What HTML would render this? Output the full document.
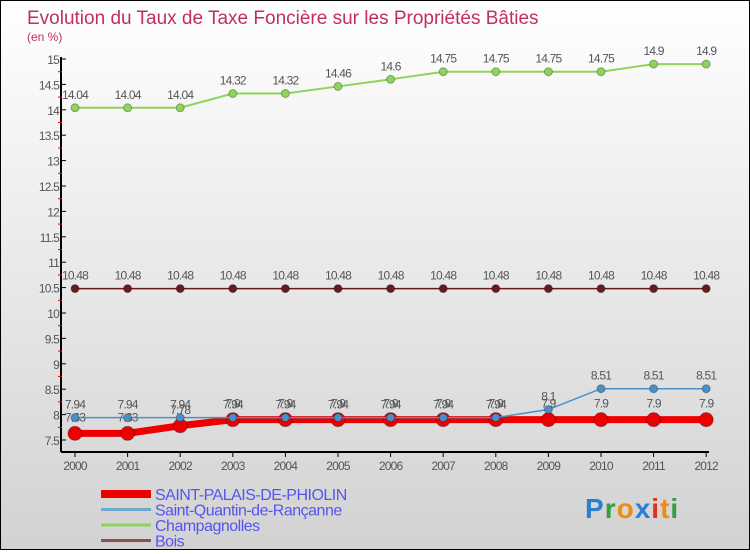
<!DOCTYPE html>
<html><head><meta charset="utf-8"><style>
body{margin:0;}
#c{width:748px;height:548px;border:1px solid #000;background:linear-gradient(#fff,#d2d2d2);position:relative;font-family:"Liberation Sans",sans-serif;}
</style></head><body>
<div id="c">
<svg id="s" width="748" height="548" xmlns="http://www.w3.org/2000/svg"></svg>
</div>
<script>
const years=[2000,2001,2002,2003,2004,2005,2006,2007,2008,2009,2010,2011,2012];
const yTicks=[7.5,8,8.5,9,9.5,10,10.5,11,11.5,12,12.5,13,13.5,14,14.5,15];
const champ=[14.04,14.04,14.04,14.32,14.32,14.46,14.6,14.75,14.75,14.75,14.75,14.9,14.9];
const bois=[10.48,10.48,10.48,10.48,10.48,10.48,10.48,10.48,10.48,10.48,10.48,10.48,10.48];
const sq=[7.94,7.94,7.94,7.94,7.94,7.94,7.94,7.94,7.94,8.1,8.51,8.51,8.51];
const sp=[7.63,7.63,7.78,7.9,7.9,7.9,7.9,7.9,7.9,7.9,7.9,7.9,7.9];
const s=document.getElementById('s');const NS='http://www.w3.org/2000/svg';
function X(i){return 74+i*52.6;}
function Y(v){return 439-(v-7.5)*50.8;}
function el(t,a,txt,p){const e=document.createElementNS(NS,t);for(const k in a)e.setAttribute(k,a[k]);if(txt!==undefined)e.textContent=txt;(p||s).appendChild(e);return e;}
let e;
e=el('text',{x:26,y:23,'font-size':19,fill:'#c0305a'},'Evolution du Taux de Taxe Foncière sur les Propriétés Bâties');


e=el('text',{x:26,y:40,'font-size':12,fill:'#c0305a'},'(en %)');


e=el('line',{x1:60,y1:56,x2:60,y2:451,stroke:'#000','stroke-width':2});


e=el('line',{x1:60,y1:451,x2:708,y2:451,stroke:'#000','stroke-width':2});


yTicks.forEach((v,i)=>{
 el('line',{x1:60,y1:Y(v),x2:65,y2:Y(v),stroke:'#000'});
 e=el('text',{x:58,y:Y(v)+5,'font-size':12,fill:'#555','text-anchor':'end','letter-spacing':'-0.8'},String(v));
 
 
 if(i<yTicks.length-1)el('line',{x1:57,y1:Y(v+0.25),x2:61,y2:Y(v+0.25),stroke:'#e00'});
});
years.forEach((y,i)=>{
 el('line',{x1:X(i),y1:451,x2:X(i),y2:456,stroke:'#000'});
 e=el('text',{x:X(i),y:469,'font-size':12,fill:'#555','text-anchor':'middle','letter-spacing':'-0.8'},String(y));
 
 
});
function series(d,col,w,r,name,lab){
 e=el('polyline',{points:d.map((v,i)=>X(i)+','+Y(v)).join(' '),fill:'none',stroke:col,'stroke-width':w});
 
 
 d.forEach((v,i)=>{
  e=el('circle',{cx:X(i),cy:Y(v),r:r,fill:col,stroke:'rgba(0,0,0,0.3)'});
  
  
  e=el('text',{x:X(i),y:Y(v)-9+(lab||0),'font-size':12,fill:'#555','text-anchor':'middle','letter-spacing':'-0.8'},String(v));
  
  
 });
}
series(champ,'#8fd45a',2,4,'champagnolles');
series(bois,'#6b1a1a',1.5,4,'bois');
series(sp,'#ee0000',7,7,'saint-palais',-3);
series(sq,'#4a90c8',1.5,4,'saint-quentin');
const leg=[['SAINT-PALAIS-DE-PHIOLIN','#ee0000',8],['Saint-Quantin-de-Rançanne','#6fa8d0',3],['Champagnolles','#8fd45a',3],['Bois','#8b5050',3]];
leg.forEach((l,i)=>{
 const y=493+i*15.5;
 e=el('line',{x1:100,y1:y,x2:150,y2:y,stroke:l[1],'stroke-width':l[2]});
 
 
 e=el('text',{x:154,y:y+6,'font-size':16,fill:'#5555ee','letter-spacing':'-0.5'},l[0]);
 
 
});
const logo=el('text',{x:584,y:517,'font-size':28,'font-weight':'bold','letter-spacing':'1'});


[['P','#2a7fd0'],['r','#30a040'],['o','#f08a10'],['x','#2a7fd0'],['i','#e03020'],['t','#f08a10'],['i','#30a040']].forEach(c=>el('tspan',{fill:c[1]},c[0],logo));
</script>
</body></html>
